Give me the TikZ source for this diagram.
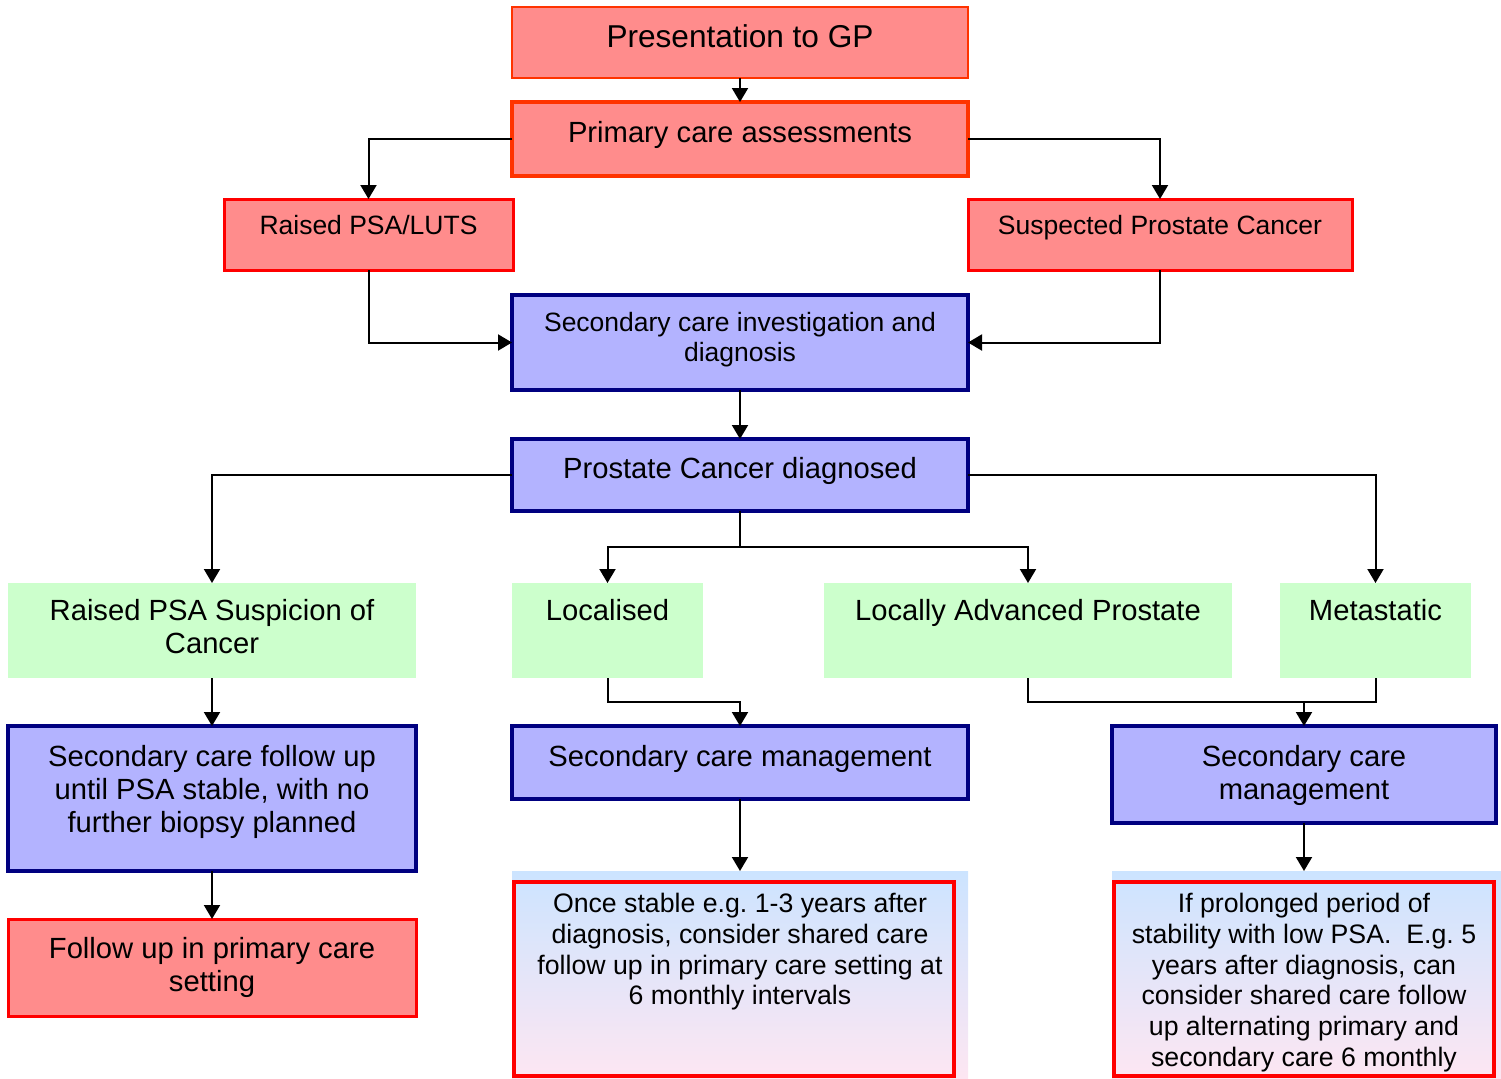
\documentclass[tikz,border=0pt]{standalone}
\usepackage{fontspec}
\setmainfont{Liberation Sans}
\usepackage{xcolor}
\usepackage{tikz}
\usetikzlibrary{arrows.meta}
\frenchspacing

\definecolor{salmon}{RGB}{255,140,140}
\definecolor{orangered}{RGB}{255,51,0}
\definecolor{boxred}{RGB}{255,0,0}
\definecolor{lilac}{RGB}{179,179,255}
\definecolor{navy}{RGB}{0,0,128}
\definecolor{mint}{RGB}{204,255,204}
\definecolor{skytop}{RGB}{204,228,255}
\definecolor{pinkbot}{RGB}{253,230,242}

\tikzset{
  box/.style = {anchor=north west, inner sep=0pt, outer sep=0pt},
  redbox/.style = {box, fill=salmon, draw=boxred, line width=1.5pt},
  bluebox/.style = {box, fill=lilac, draw=navy, line width=1.75pt},
  greenbox/.style = {box, fill=mint},
  notebox/.style = {box, draw=boxred, line width=2pt},
  txt/.style = {anchor=north, align=center, inner sep=0pt},
  bigfont/.style = {font=\fontsize{14.6}{16.7}\selectfont},
  medfont/.style = {font=\fontsize{13.25}{15.1}\selectfont},
  notefont/.style = {font=\fontsize{13.35}{15.35}\selectfont},
  link/.style = {line width=1pt},
  arr/.style = {link, -{Triangle[length=7pt,width=8pt]}}
}

\begin{document}
\begin{tikzpicture}[x=0.5pt, y=-0.5pt]

\useasboundingbox (0,0) rectangle (1501,1078);

% referral
\node[redbox, draw=orangered, line width=1pt, minimum width=228pt, minimum height=35.5pt] (gp) at (512,7) {};
\node[txt, font=\fontsize{15.8}{18}\selectfont] (gp-txt) at (740,24.5) {Presentation to GP};

\node[redbox, draw=orangered, line width=2pt, minimum width=228pt, minimum height=37pt] (pca) at (512,102) {};
\node[txt, bigfont] (pca-txt) at (740,120.5) {Primary care assessments};

\node[redbox, minimum width=144.5pt, minimum height=35.5pt] (luts) at (224,199) {};
\node[txt, medfont] (luts-txt) at (368.5,215) {Raised PSA/LUTS};

\node[redbox, minimum width=192pt, minimum height=35.5pt] (susp) at (968,199) {};
\node[txt, medfont] (susp-txt) at (1160,215) {Suspected Prostate Cancer};

% diagnosis
\node[bluebox, minimum width=228pt, minimum height=47.5pt] (inv) at (512,295) {};
\node[txt, medfont] (inv-txt) at (740,312) {Secondary care investigation and\\ diagnosis};

\node[bluebox, minimum width=228pt, minimum height=36pt] (pcd) at (512,439) {};
\node[txt, bigfont] (pcd-txt) at (740,456.5) {Prostate Cancer diagnosed};

% stage
\node[greenbox, minimum width=204pt, minimum height=47.5pt] (psa) at (8,583) {};
\node[txt, bigfont] (psa-txt) at (212,598.5) {Raised PSA Suspicion of\\ Cancer};

\node[greenbox, minimum width=95.5pt, minimum height=47.5pt] (loc) at (512,583) {};
\node[txt, bigfont] (loc-txt) at (607.5,598.5) {Localised};

\node[greenbox, minimum width=204pt, minimum height=47.5pt] (ladv) at (824,583) {};
\node[txt, bigfont] (ladv-txt) at (1028,598.5) {Locally Advanced Prostate};

\node[greenbox, minimum width=95.5pt, minimum height=47.5pt] (meta) at (1280,583) {};
\node[txt, bigfont] (meta-txt) at (1375.5,598.5) {Metastatic};

% management
\node[bluebox, minimum width=204pt, minimum height=72.5pt] (fup) at (8,726) {};
\node[txt, bigfont] (fup-txt) at (212,744.5) {Secondary care follow up\\ until PSA stable, with no\\ further biopsy planned};

\node[bluebox, minimum width=228pt, minimum height=36.5pt] (mgmt-m) at (512,726) {};
\node[txt, bigfont] (mgmt-m-txt) at (740,744.5) {Secondary care management};

\node[bluebox, minimum width=192pt, minimum height=48.5pt] (mgmt-r) at (1112,726) {};
\node[txt, bigfont] (mgmt-r-txt) at (1304,744.5) {Secondary care\\ management};

\node[redbox, minimum width=204pt, minimum height=48.5pt] (prim) at (8,919) {};
\node[txt, bigfont] (prim-txt) at (212,936.5) {Follow up in primary care\\ setting};

% shared care notes
\node[box, top color=skytop, bottom color=pinkbot, minimum width=228pt, minimum height=103.5pt] (bg-m) at (512,871) {};
\node[notebox, minimum width=220pt, minimum height=97pt] (note-m) at (514,882) {};
\node[txt, notefont] (note-m-txt) at (740,893) {Once stable e.g. 1-3 years after\\ diagnosis, consider shared care\\ follow up in primary care setting at\\ 6 monthly intervals};

\node[box, top color=skytop, bottom color=pinkbot, minimum width=194.5pt, minimum height=103.5pt] (bg-r) at (1112,871) {};
\node[notebox, minimum width=190pt, minimum height=97pt] (note-r) at (1114,882) {};
\node[txt, notefont] (note-r-txt) at (1304,893) {If prolonged period of\\ stability with low PSA.\ \ E.g. 5\\ years after diagnosis, can\\ consider shared care follow\\ up alternating primary and\\ secondary care 6 monthly};

% connectors
\coordinate (split) at (740,547);
\coordinate (join-m) at (740,702);
\coordinate (join-r) at (1304,702);

\draw[arr] (gp.south) -- (pca.north);
\draw[arr] (pca.west) -| (luts.north);
\draw[arr] (pca.east) -| (susp.north);
\draw[arr] (luts.south) |- (inv.west);
\draw[arr] (susp.south) |- (inv.east);
\draw[arr] (inv.south) -- (pcd.north);
\draw[arr] (pcd.west) -| (psa.north);
\draw[arr] (pcd.east) -| (meta.north);
\draw[link] (pcd.south) -- (split);
\draw[arr] (split) -| (loc.north);
\draw[arr] (split) -| (ladv.north);
\draw[arr] (psa.south) -- (fup.north);
\draw[arr] (loc.south) |- (join-m) -- (mgmt-m.north);
\draw[link] (ladv.south) |- (join-r) -| (meta.south);
\draw[arr] (join-r) -- (mgmt-r.north);
\draw[arr] (fup.south) -- (prim.north);
\draw[arr] (mgmt-m.south) -- (bg-m.north);
\draw[arr] (mgmt-r.south) -- (mgmt-r.south |- bg-r.north);

\end{tikzpicture}
\end{document}
